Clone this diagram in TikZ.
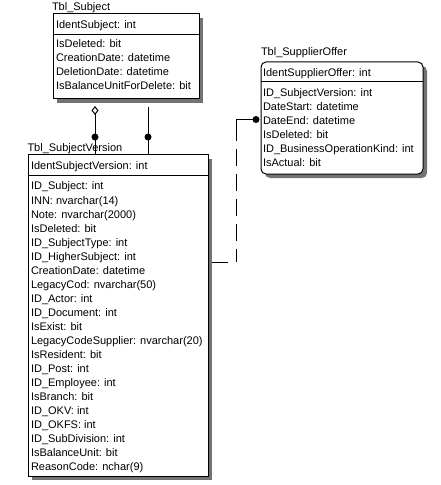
\documentclass[tikz,border=0pt]{standalone}
\usepackage{fontspec}
\setmainfont{Liberation Sans}
\usetikzlibrary{arrows.meta,shadows}
\begin{document}
\begin{tikzpicture}[x=1bp,y=-1bp,line width=1bp,
  txt/.style={anchor=base west,inner sep=0pt,outer sep=0pt,font=\fontsize{11bp}{14bp}\selectfont},
  tblbox/.style={draw=black,fill=white,anchor=north west,inner sep=0pt,outer sep=0pt,
    drop shadow={shadow xshift=4bp,shadow yshift=-4bp,fill=black!55,opacity=1}},
  joint/.style={circle,fill=black,draw=none,inner sep=0pt,minimum size=7bp},
  link/.style={draw=black,line width=1bp}]
\useasboundingbox[fill=white] (0,0) rectangle (441,485);

% ---- Tbl_Subject
\node[tblbox,minimum width=146bp,minimum height=85bp] (subj) at (53,14) {};
\coordinate (subjh) at (0,35);
\draw (subj.west |- subjh) -- (subj.east |- subjh);
\node[txt] (subjlbl) at (52,11) {Tbl\_Subject};
\node[txt] (subjkey) at (56,29) {IdentSubject: int};
\foreach \t [count=\i] in {IsDeleted: bit, CreationDate: datetime, DeletionDate: datetime, IsBalanceUnitForDelete: bit}
  \node[txt] (subj\i) at (56,{34+14*\i}) {\t};

% ---- Tbl_SubjectVersion
\node[tblbox,minimum width=180bp,minimum height=321bp] (sv) at (28,155) {};
\coordinate (svh) at (0,176);
\draw (sv.west |- svh) -- (sv.east |- svh);
\node[txt] (svlbl) at (27.5,152) {Tbl\_SubjectVersion};
\node[txt] (svkey) at (31,170) {IdentSubjectVersion: int};
\foreach \t [count=\i] in {ID\_Subject: int, INN: nvarchar(14), Note: nvarchar(2000), IsDeleted: bit,
  ID\_SubjectType: int, ID\_HigherSubject: int, CreationDate: datetime, LegacyCod: nvarchar(50),
  ID\_Actor: int, ID\_Document: int, IsExist: bit, LegacyCodeSupplier: nvarchar(20), IsResident: bit,
  ID\_Post: int, ID\_Employee: int, IsBranch: bit, ID\_OKV: int, ID\_OKFS: int, ID\_SubDivision: int,
  IsBalanceUnit: bit, ReasonCode: nchar(9)}
  \node[txt] (sv\i) at (31,{176+14*\i}) {\t};

% ---- Tbl_SupplierOffer
\node[tblbox,rounded corners=5bp,minimum width=162bp,minimum height=112bp] (so) at (261,62) {};
\coordinate (soh) at (0,82);
\draw (so.west |- soh) -- (so.east |- soh);
\node[txt] (solbl) at (261,56) {Tbl\_SupplierOffer};
\node[txt] (sokey) at (263,77) {IdentSupplierOffer: int};
\foreach \t [count=\i] in {ID\_SubjectVersion: int, DateStart: datetime, DateEnd: datetime, IsDeleted: bit,
  ID\_BusinessOperationKind: int, IsActual: bit}
  \node[txt] (so\i) at (263,{83+14*\i}) {\t};

% ---- connectors Tbl_Subject -> Tbl_SubjectVersion
\coordinate (c1) at (95,106);
\draw[link,{Diamond[open,length=9bp,width=7bp,line width=1bp]}-] (c1) -- (c1 |- sv.north);
\node[joint] (j1) at (95,137) {};
\coordinate (c2) at (148,107);
\draw[link] (c2) -- (c2 |- sv.north);
\node[joint] (j2) at (148,137) {};

% ---- dashed connector Tbl_SubjectVersion -> Tbl_SupplierOffer
\node[joint] (j3) at (256,119.5) {};
\coordinate (p1) at (236,119.5);
\coordinate (p2) at (236,141);
\coordinate (p3) at (236,262);
\coordinate (p4) at (212,262);
\coordinate (p5) at (228,262);
\draw[link] (j3.center) -- (p1) -- (p2);
\draw[link,dash pattern=on 17bp off 8bp,dash phase=17bp] (p2) -- (p3);
\draw[link] (p4) -- (p5);
\end{tikzpicture}
\end{document}
